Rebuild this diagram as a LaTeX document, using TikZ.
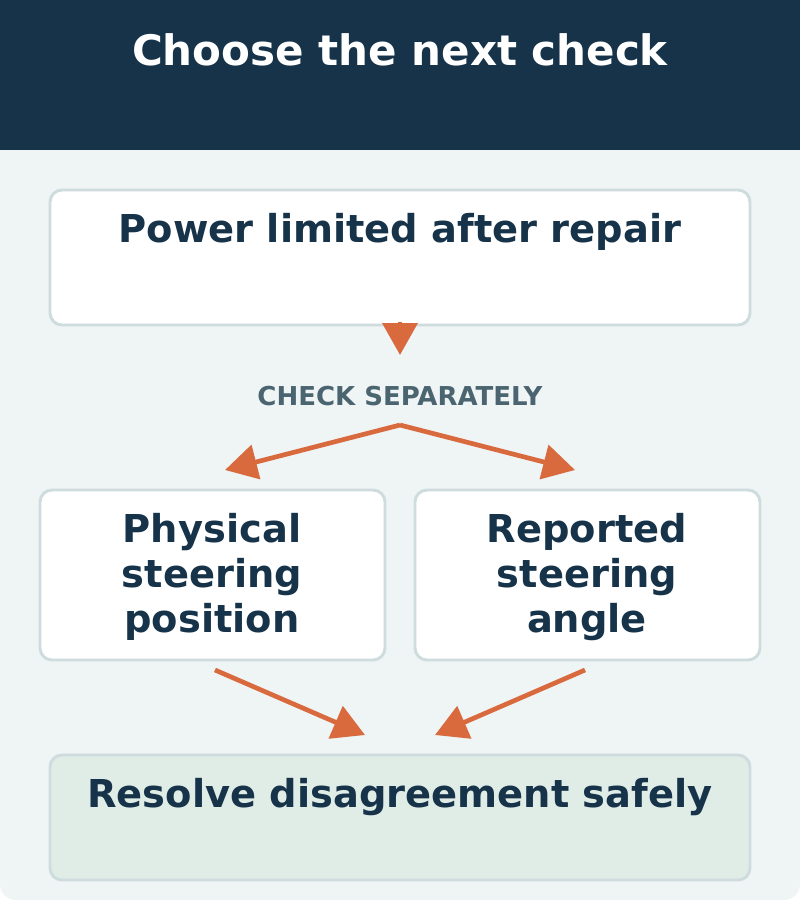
\documentclass[tikz,border=0pt]{standalone}
\usepackage{fontspec}
\setmainfont{DejaVu Sans}
\usetikzlibrary{arrows.meta}
\definecolor{hdr}{HTML}{16334A}
\definecolor{bgc}{HTML}{EFF4F5}
\definecolor{bdr}{HTML}{CFDCDE}
\definecolor{grn}{HTML}{E0ECE6}
\definecolor{org}{HTML}{D86A3E}
\definecolor{lbl}{HTML}{4A6470}
\begin{document}
\begin{tikzpicture}[x=0.75pt,y=-0.75pt,
 box/.style={draw=bdr,line width=2.2pt,fill=white,rounded corners=9pt},
 txt/.style={text=hdr,font=\bfseries\fontsize{28.8}{34}\selectfont,align=center},
 arr/.style={draw=org,line width=3.5pt,-{Triangle[length=24pt,width=26pt]}}]
\useasboundingbox (0,0) rectangle (800,900);
\fill[bgc,rounded corners=12pt] (0,100) rectangle (800,900);
\fill[hdr] (0,0) rectangle (800,150);
\node[text=white,font=\bfseries\fontsize{31.5}{36}\selectfont] (title) at (400,50) {Choose the next check};
\draw[box] (50,190) rectangle (750,325);
\node[txt] (top) at (400,232) {Power limited after repair};
\node[text=lbl,font=\bfseries\fontsize{19.5}{22}\selectfont] (sep) at (400,396) {CHECK SEPARATELY};
\draw[box] (40,490) rectangle (385,660);
\node[txt] (phys) at (212,577) {Physical\\steering\\position};
\draw[box] (415,490) rectangle (760,660);
\node[txt] (rep) at (587,577) {Reported\\steering\\angle};
\draw[box,fill=grn] (50,755) rectangle (750,880);
\node[txt] (res) at (400,797) {Resolve disagreement safely};
\coordinate (a0) at (400,322); \coordinate (a1) at (400,355);
\coordinate (s) at (400,425); \coordinate (l) at (225,470); \coordinate (r) at (575,470);
\coordinate (p0) at (215,670); \coordinate (p1) at (365,735);
\coordinate (q0) at (585,670); \coordinate (q1) at (435,735);
\draw[arr] (a0) -- (a1);
\draw[arr] (s) -- (l);
\draw[arr] (s) -- (r);
\draw[arr] (p0) -- (p1);
\draw[arr] (q0) -- (q1);
\end{tikzpicture}
\end{document}
